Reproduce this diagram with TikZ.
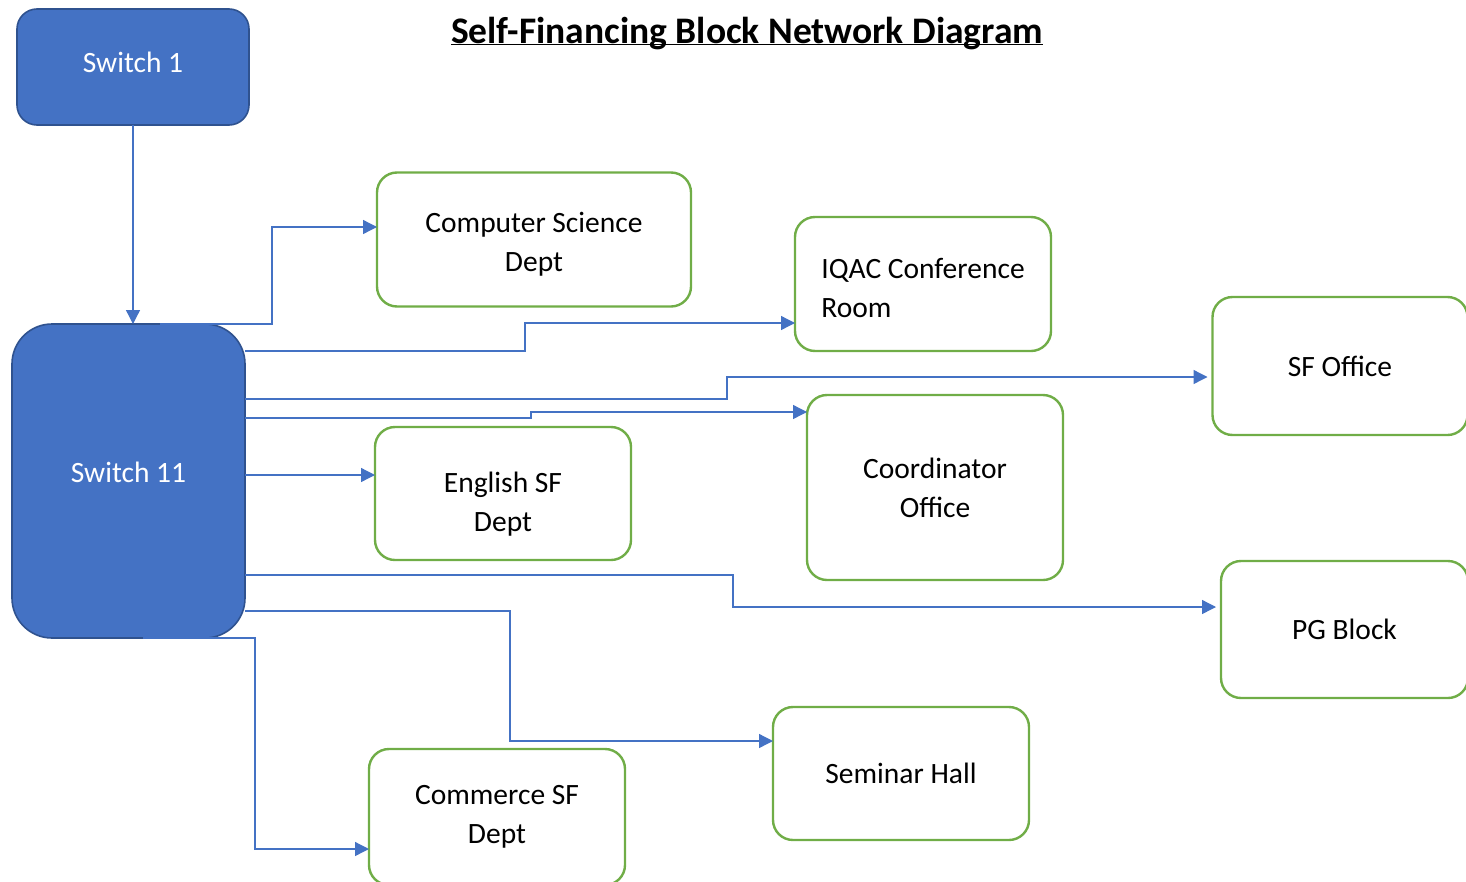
\documentclass[tikz,border=0pt]{standalone}
\usepackage{fontspec}
\setmainfont{Carlito}
\usetikzlibrary{arrows.meta}
\definecolor{switchblue}{HTML}{4472C4}
\definecolor{switchedge}{HTML}{2F528F}
\definecolor{roomgreen}{HTML}{70AD47}
\tikzset{
  switchbox/.style = {draw = switchedge, fill = switchblue, line width = 1.6pt, text = white, inner sep = 0pt, outer sep = 0pt},
  roombox/.style = {draw = roomgreen, line width = 2.4pt, rounded corners = 20pt, inner sep = 0pt, outer sep = 0pt, minimum width = 256pt, minimum height = 134pt, align = center},
  link/.style = {draw = switchblue, line width = 1.3pt, -{Triangle[length=14pt,width=14pt]}}
}
\begin{document}
\begin{tikzpicture}[x = 1pt, y = -1pt, font = \fontsize{29.5}{39}\selectfont]
\useasboundingbox (0,0) rectangle (1466,881);
\node [anchor = base, inner sep = 0pt, font = \fontsize{37.5}{44}\selectfont\bfseries] (title) at (747,43) {\underline{\smash{Self-Financing Block Network Diagram}}};
\node [switchbox, rounded corners = 20pt, minimum width = 232pt, minimum height = 116pt, text depth = 10pt] (sw1) at (133,67) {Switch 1};
\node [switchbox, rounded corners = 40pt, minimum width = 233pt, minimum height = 314pt, text depth = 18pt] (sw11) at (128.5,481) {Switch 11};
\node [roombox, minimum width = 314pt, text height = 68pt] (cs) at (534,239.5) {Computer Science\\Dept};
\node [roombox, align = left, text height = 68pt] (iqac) at (923,284) {IQAC Conference\\Room};
\node [roombox, minimum height = 138pt, minimum width = 255pt] (sf) at (1340,366) {SF Office};
\node [roombox, minimum height = 185pt] (coord) at (935,487.5) {Coordinator\\Office};
\node [roombox, minimum height = 133pt, text height = 80pt] (eng) at (503,493.5) {English SF\\Dept};
\node [roombox, minimum height = 137pt, minimum width = 247pt] (pg) at (1344.5,629.5) {PG Block};
\node [roombox, minimum height = 133pt] (sem) at (901,773.5) {Seminar Hall};
\node [roombox, minimum height = 136pt] (com) at (497,817) {Commerce SF\\Dept};
\draw [link] (sw1.south) -- (sw1.south |- sw11.north);
\draw [link] ([xshift=31.5pt]sw11.north) -- ++(112,0) |- ([yshift=12.5pt]cs.west);
\draw [link] ([yshift=130pt]sw11.east) -- ++(280,0) |- ([yshift=-39pt]iqac.west);
\draw [link, shorten > = 5pt] ([yshift=82pt]sw11.east) -- ++(482,0) |- ([yshift=-11pt]sf.west);
\draw [link] ([yshift=63pt]sw11.east) -- ++(286,0) |- ([yshift=75.5pt]coord.west);
\draw [link] ([yshift=18.5pt]sw11.east |- eng.west) -- ([yshift=18.5pt]eng.west);
\draw [link, shorten > = 5pt] ([yshift=-94pt]sw11.east) -- ++(488,0) |- ([yshift=22.5pt]pg.west);
\draw [link] ([yshift=-130pt]sw11.east) -- ++(265,0) |- ([yshift=32.5pt]sem.west);
\draw [link] ([xshift=14.5pt]sw11.south) -- ++(112,0) |- ([yshift=-32pt]com.west);
\end{tikzpicture}
\end{document}
